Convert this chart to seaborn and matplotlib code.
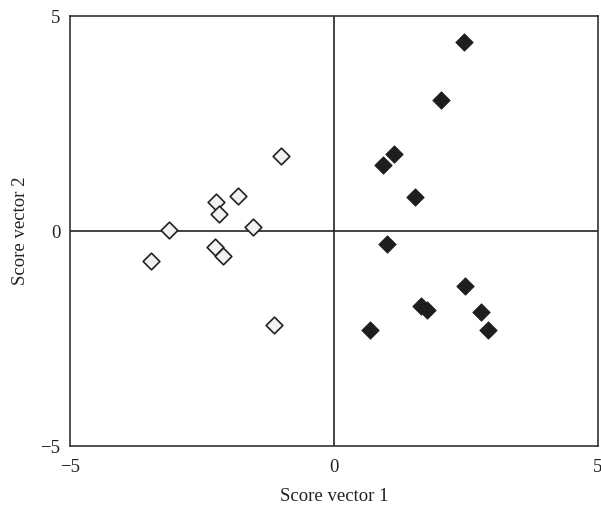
import matplotlib
matplotlib.use("Agg")
import matplotlib.pyplot as plt
import seaborn as sns
import pandas as pd

# Data
open_x = [-1.01, -1.81, -2.23, -2.18, -3.12, -1.53, -2.25, -2.10, -3.47, -1.13]
open_y = [1.74, 0.82, 0.68, 0.40, 0.02, 0.09, -0.37, -0.57, -0.69, -2.19]
filled_x = [2.46, 2.03, 1.13, 0.93, 1.54, 1.00, 2.48, 1.64, 1.76, 2.78, 0.68, 2.92]
filled_y = [4.39, 3.04, 1.78, 1.53, 0.80, -0.30, -1.29, -1.74, -1.84, -1.88, -2.30, -2.30]
ticks = [-5, 0, 5]
tick_labels = ["\u22125", "0", "5"]

df = pd.DataFrame({
    "x": open_x + filled_x,
    "y": open_y + filled_y,
    "group": ["open"] * len(open_x) + ["filled"] * len(filled_x),
})

sns.set_theme(style="white")
plt.rcParams["font.family"] = ["Liberation Serif", "DejaVu Serif"]

fig = plt.figure(figsize=(6.01, 5.08), dpi=100)
ax = fig.add_axes([0.1165, 0.122, 0.8785, 0.8465])

ax.axhline(0, color="#222222", lw=1.2, zorder=1)
ax.axvline(0, color="#222222", lw=1.2, zorder=1)

sns.scatterplot(data=df[df.group == "open"], x="x", y="y", marker="D", s=72,
                color="#f2f2f2", edgecolor="#222222", linewidth=1.2, ax=ax, zorder=3, legend=False)
sns.scatterplot(data=df[df.group == "filled"], x="x", y="y", marker="D", s=80,
                color="#1e1e1e", edgecolor="#1e1e1e", linewidth=0.5, ax=ax, zorder=3, legend=False)

ax.set_xlim(-5, 5)
ax.set_ylim(-5, 5)
ax.set_xticks(ticks)
ax.set_xticklabels(tick_labels)
ax.set_yticks(ticks)
ax.set_yticklabels(tick_labels)
ax.tick_params(length=0, labelsize=13.5, colors="#222222")
ax.tick_params(axis="x", pad=9)
ax.tick_params(axis="y", pad=7)
ax.set_xlabel("Score vector 1", fontsize=13.5, color="#222222", labelpad=9)
ax.set_ylabel("Score vector 2", fontsize=13.5, color="#222222", labelpad=8)
for s in ax.spines.values():
    s.set_color("#333333")
    s.set_linewidth(1.2)

fig.savefig("out.png", dpi=100)
